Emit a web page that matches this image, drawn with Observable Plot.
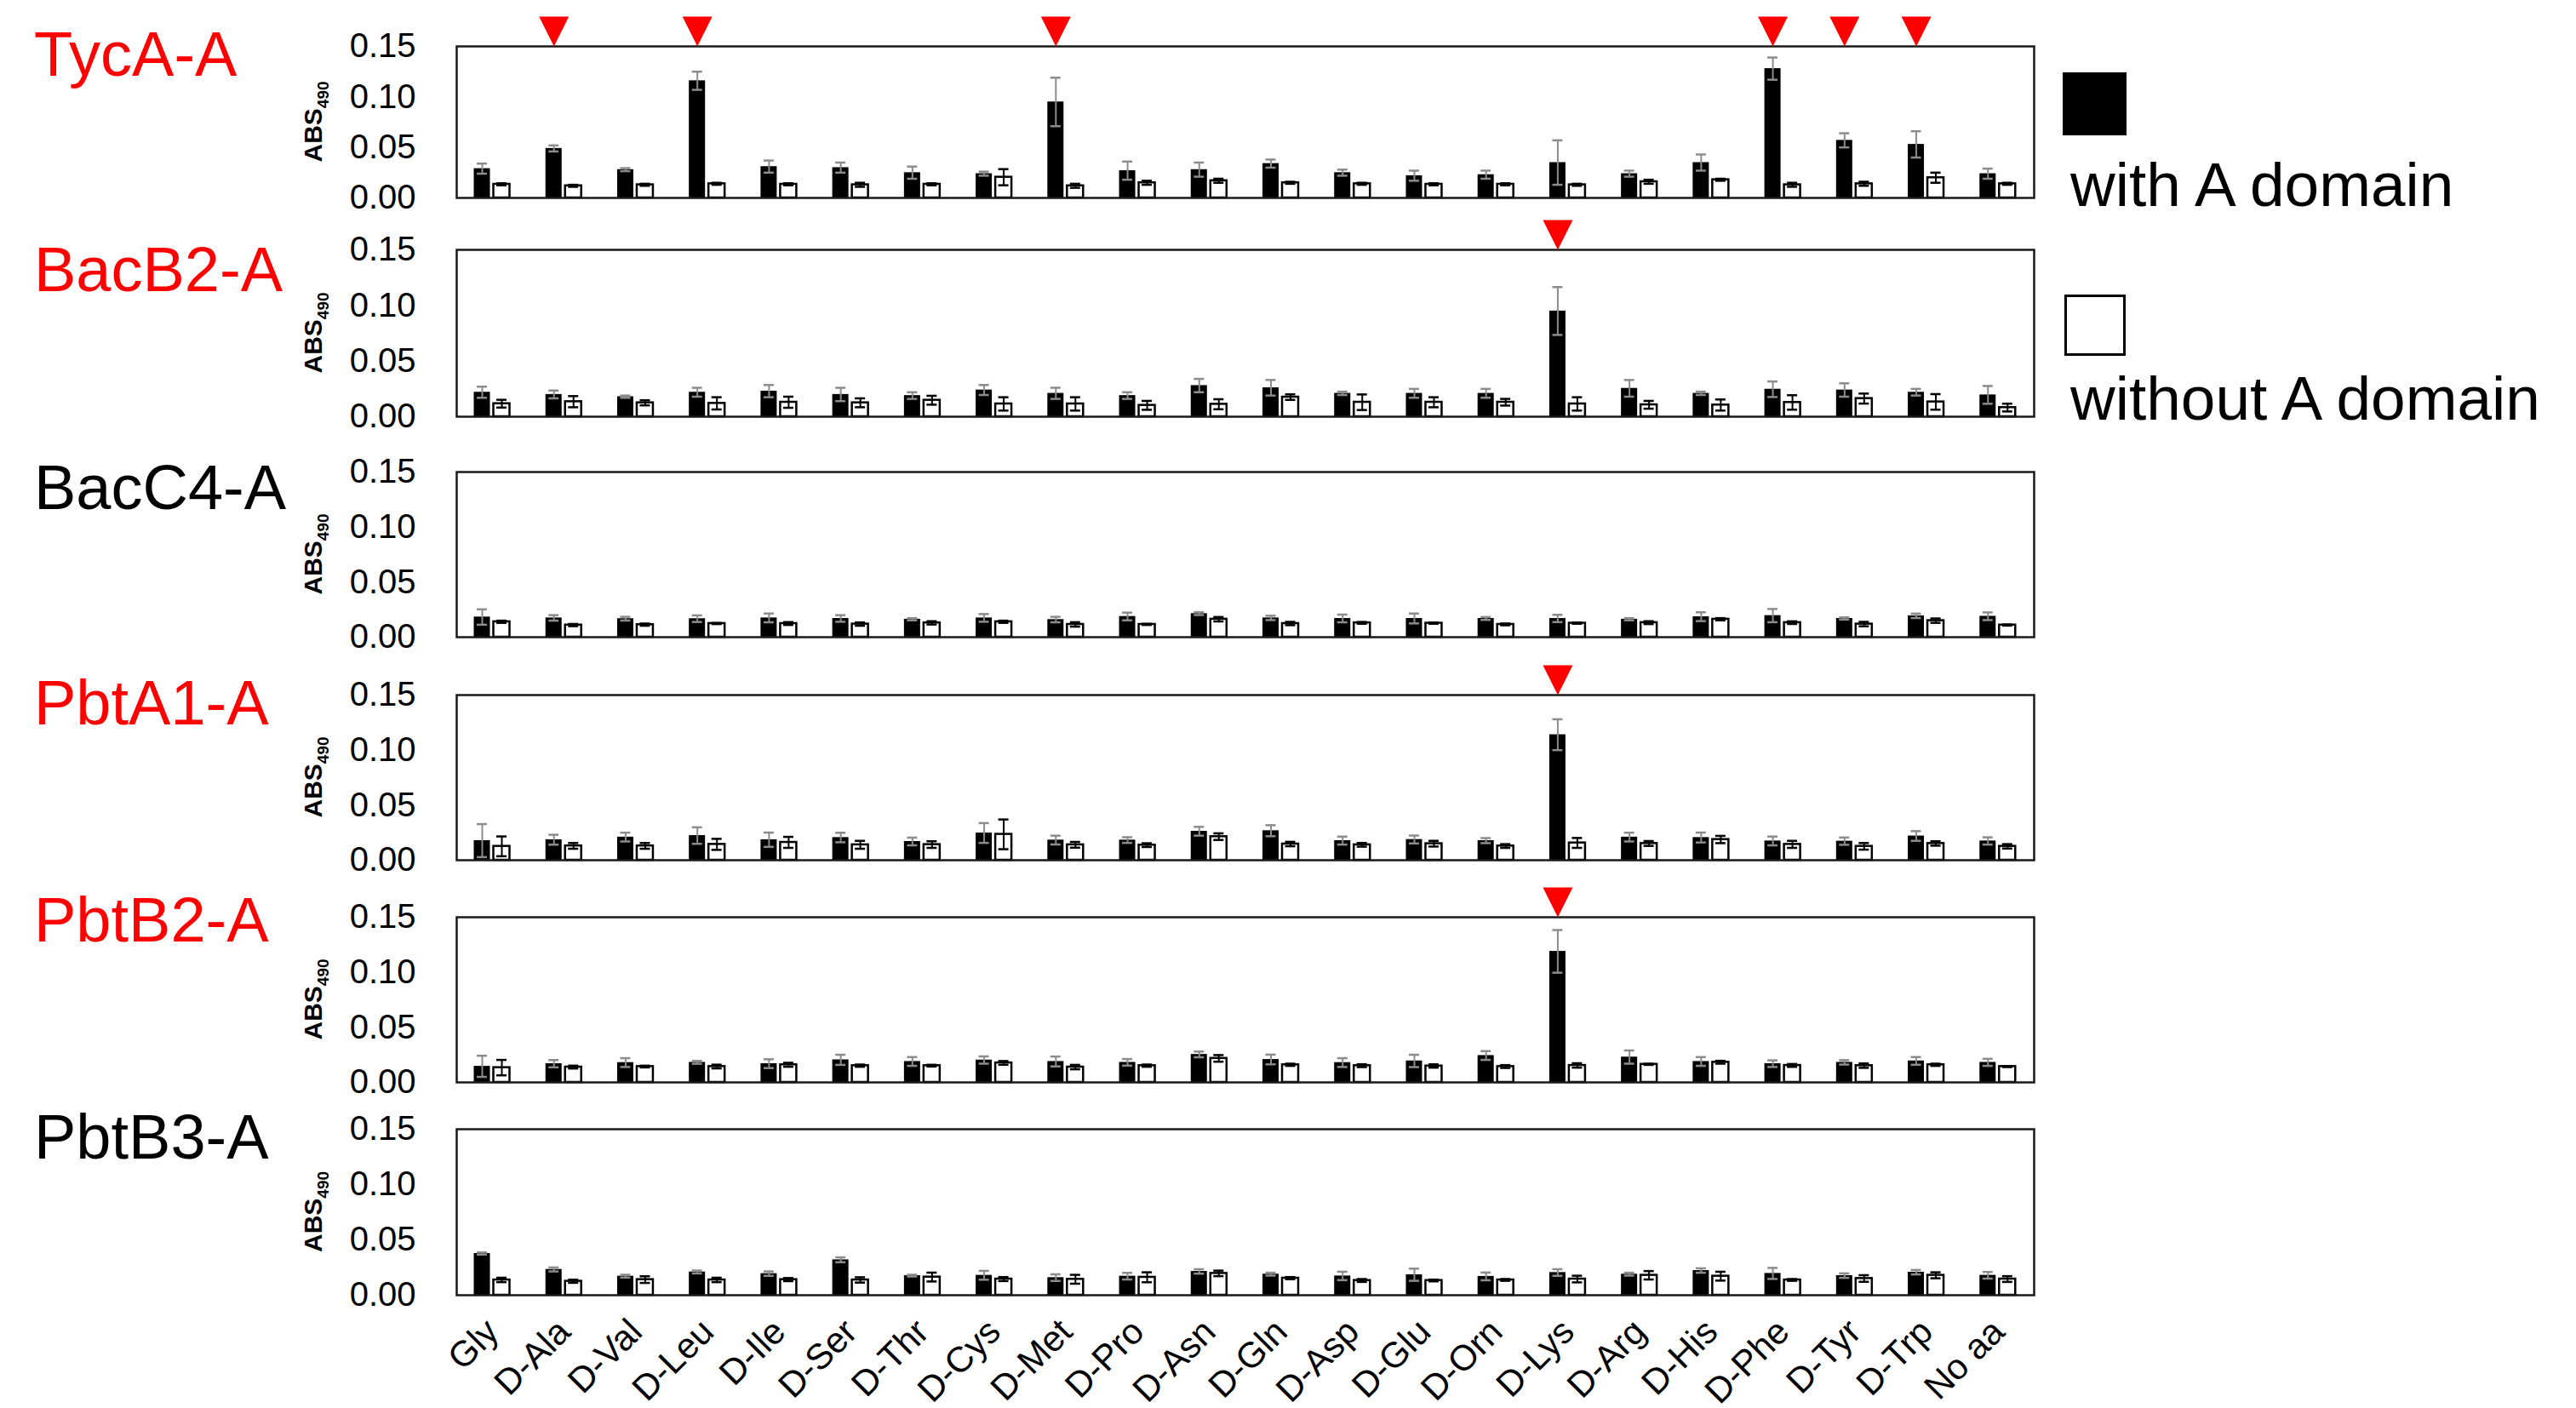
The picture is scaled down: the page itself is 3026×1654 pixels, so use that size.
<!DOCTYPE html>
<html>
<head>
<meta charset="utf-8">
<script src="https://cdn.jsdelivr.net/npm/d3@7"></script>
<script src="https://cdn.jsdelivr.net/npm/@observablehq/plot@0.6"></script>
<style>
  html, body { margin: 0; padding: 0; background: #fff; }
  body { width: 3026px; height: 1654px; position: relative; overflow: hidden;
         font-family: "Liberation Sans", Arial, Helvetica, sans-serif; }
  .panel { position: absolute; left: 0; }
  .title { position: absolute; font-size: 74px; line-height: 74px; white-space: nowrap; }
  .swatch { position: absolute; box-sizing: border-box; }
  .legtext { position: absolute; font-size: 73px; line-height: 73px; white-space: nowrap; color: #000; }
</style>
</head>
<body>
<div id="root"></div>
<script>
// ---------------- DATA ----------------
const categories = ["Gly","D-Ala","D-Val","D-Leu","D-Ile","D-Ser","D-Thr","D-Cys","D-Met","D-Pro","D-Asn",
  "D-Gln","D-Asp","D-Glu","D-Orn","D-Lys","D-Arg","D-His","D-Phe","D-Tyr","D-Trp","No aa"];
const panelNames = ["TycA-A","BacB2-A","BacC4-A","PbtA1-A","PbtB2-A","PbtB3-A"];
const seriesLabels = ["with A domain","without A domain"];
const yTicks = [0, 0.05, 0.10, 0.15];

const tycaWith       = [0.029,0.049,0.028,0.116,0.031,0.030,0.025,0.024,0.095,0.027,0.028,0.034,0.025,0.022,0.023,0.035,0.024,0.035,0.128,0.057,0.053,0.024];
const tycaWithErr    = [0.005,0.003,0.0015,0.009,0.006,0.005,0.006,0.002,0.024,0.009,0.007,0.004,0.003,0.005,0.004,0.022,0.003,0.008,0.011,0.007,0.013,0.005];
const tycaWithout    = [0.0135,0.012,0.013,0.014,0.0135,0.013,0.0135,0.0205,0.012,0.015,0.017,0.015,0.014,0.0135,0.0135,0.013,0.016,0.018,0.013,0.014,0.020,0.014];
const tycaWithoutErr = [0.001,0.001,0.001,0.001,0.001,0.002,0.001,0.008,0.002,0.002,0.002,0.001,0.001,0.001,0.001,0.001,0.002,0.001,0.002,0.002,0.005,0.001];
const tycaMarked     = ["D-Ala","D-Leu","D-Met","D-Phe","D-Tyr","D-Trp"];

const bacb2With       = [0.022,0.020,0.018,0.022,0.023,0.020,0.019,0.024,0.021,0.019,0.028,0.026,0.021,0.021,0.021,0.095,0.0255,0.021,0.0247,0.024,0.022,0.0196];
const bacb2WithErr    = [0.005,0.0035,0.001,0.004,0.0055,0.006,0.003,0.0045,0.005,0.003,0.006,0.007,0.0015,0.004,0.004,0.0215,0.0075,0.0015,0.007,0.006,0.003,0.008];
const bacb2Without    = [0.0117,0.0135,0.0125,0.012,0.013,0.0125,0.0148,0.0115,0.0115,0.0102,0.0112,0.0176,0.013,0.013,0.013,0.0115,0.0107,0.0105,0.0128,0.0163,0.0133,0.0082];
const bacb2WithoutErr = [0.0035,0.005,0.0023,0.0055,0.005,0.004,0.004,0.006,0.006,0.004,0.0045,0.0025,0.007,0.0045,0.003,0.006,0.0035,0.005,0.0065,0.0045,0.007,0.0035];
const bacb2Marked     = ["D-Lys"];

const bacc4With       = [0.0183,0.0175,0.0168,0.0168,0.0175,0.017,0.0163,0.0175,0.016,0.0188,0.0214,0.0175,0.017,0.017,0.017,0.017,0.0163,0.0186,0.0196,0.017,0.0194,0.019];
const bacc4WithErr    = [0.007,0.0025,0.0017,0.003,0.004,0.003,0.001,0.0035,0.0025,0.0035,0.0013,0.002,0.0035,0.0045,0.0013,0.0033,0.001,0.004,0.006,0.001,0.002,0.0035];
const bacc4Without    = [0.014,0.011,0.0114,0.0124,0.0124,0.0119,0.013,0.014,0.0116,0.0116,0.0163,0.0124,0.013,0.0127,0.0116,0.0127,0.0132,0.0163,0.0132,0.0119,0.015,0.011];
const bacc4WithoutErr = [0.001,0.001,0.001,0.0005,0.0013,0.0015,0.0015,0.001,0.002,0.0005,0.002,0.0015,0.0008,0.0005,0.0008,0.0005,0.0013,0.001,0.0012,0.002,0.002,0.0005];
const bacc4Marked     = [];

const pbta1With       = [0.0178,0.0186,0.021,0.0224,0.0186,0.0206,0.017,0.0247,0.0183,0.0183,0.0263,0.0268,0.0178,0.0188,0.0178,0.114,0.021,0.0206,0.0175,0.0173,0.022,0.0175];
const pbta1WithErr    = [0.015,0.0045,0.004,0.0075,0.0065,0.0043,0.0035,0.009,0.004,0.0026,0.004,0.005,0.0036,0.0036,0.0023,0.014,0.004,0.0045,0.004,0.0033,0.0044,0.0033];
const pbta1Without    = [0.0126,0.013,0.013,0.0144,0.0162,0.014,0.0142,0.0235,0.014,0.0137,0.0214,0.0147,0.014,0.015,0.0129,0.0157,0.0152,0.0188,0.0144,0.0126,0.0152,0.0126];
const pbta1WithoutErr = [0.009,0.0026,0.0026,0.005,0.005,0.0036,0.003,0.0135,0.0026,0.0017,0.003,0.002,0.0017,0.0026,0.0017,0.0045,0.0022,0.0033,0.0032,0.003,0.002,0.002];
const pbta1Marked     = ["D-Lys"];

const pbtb2With       = [0.0146,0.017,0.018,0.0182,0.017,0.0205,0.019,0.0203,0.019,0.0182,0.0254,0.0208,0.018,0.0195,0.0244,0.119,0.023,0.019,0.017,0.0182,0.0195,0.0182];
const pbtb2WithErr    = [0.0096,0.0033,0.004,0.0013,0.004,0.0046,0.004,0.0033,0.0045,0.003,0.0026,0.0044,0.004,0.0056,0.004,0.0194,0.006,0.004,0.003,0.002,0.0035,0.0032];
const pbtb2Without    = [0.0134,0.0139,0.0144,0.0144,0.016,0.0152,0.0152,0.0177,0.0139,0.0152,0.0218,0.016,0.0152,0.0149,0.0144,0.0154,0.0164,0.0183,0.0154,0.0152,0.016,0.0144];
const pbtb2WithoutErr = [0.007,0.0013,0.0008,0.0017,0.0018,0.001,0.0008,0.0017,0.002,0.001,0.003,0.001,0.0013,0.0015,0.0013,0.002,0.0005,0.0013,0.0013,0.002,0.001,0.0005];
const pbtb2Marked     = ["D-Lys"];

const pbtb3With       = [0.0377,0.0233,0.0172,0.021,0.0195,0.032,0.0177,0.018,0.0159,0.0172,0.0215,0.019,0.0174,0.0185,0.017,0.0205,0.019,0.0223,0.0197,0.0177,0.0208,0.018];
const pbtb3WithErr    = [0.001,0.0018,0.0013,0.0013,0.002,0.0022,0.0008,0.004,0.003,0.003,0.002,0.0013,0.0038,0.0055,0.0035,0.003,0.0013,0.002,0.005,0.002,0.002,0.003];
const pbtb3Without    = [0.0138,0.0126,0.0141,0.0138,0.0141,0.0138,0.0164,0.0146,0.0144,0.0162,0.0197,0.0154,0.0133,0.0133,0.0138,0.0146,0.018,0.0172,0.0138,0.0151,0.018,0.0146];
const pbtb3WithoutErr = [0.002,0.0014,0.003,0.002,0.0014,0.0024,0.004,0.0018,0.004,0.0045,0.0025,0.001,0.0013,0.0008,0.0008,0.003,0.0038,0.004,0.0008,0.003,0.0027,0.0026];
const pbtb3Marked     = [];

const panels = [
  {name: panelNames[0], withA: tycaWith,  withErr: tycaWithErr,  withoutA: tycaWithout,  withoutErr: tycaWithoutErr,  marked: tycaMarked},
  {name: panelNames[1], withA: bacb2With, withErr: bacb2WithErr, withoutA: bacb2Without, withoutErr: bacb2WithoutErr, marked: bacb2Marked},
  {name: panelNames[2], withA: bacc4With, withErr: bacc4WithErr, withoutA: bacc4Without, withoutErr: bacc4WithoutErr, marked: bacc4Marked},
  {name: panelNames[3], withA: pbta1With, withErr: pbta1WithErr, withoutA: pbta1Without, withoutErr: pbta1WithoutErr, marked: pbta1Marked},
  {name: panelNames[4], withA: pbtb2With, withErr: pbtb2WithErr, withoutA: pbtb2Without, withoutErr: pbtb2WithoutErr, marked: pbtb2Marked},
  {name: panelNames[5], withA: pbtb3With, withErr: pbtb3WithErr, withoutA: pbtb3Without, withoutErr: pbtb3WithoutErr, marked: pbtb3Marked}
];

// ---------------- LAYOUT ----------------
const FONT = "'Liberation Sans', Arial, Helvetica, sans-serif";
const W = 2400, frameLeft = 536, frameRight = 2389;
const frameTops = [54, 293, 554, 816, 1077, 1326];
const frameHeights = [178, 196, 194, 194, 194, 195];
const titleBaselines = [90, 343, 599, 852, 1107, 1362];
const topPad = 50;
const bw = (frameRight - frameLeft) / categories.length;  // band width
// bar geometry inside each band (px)
const blackL = 20.5, blackR = 39.5, whiteL = 43.5, whiteR = 62.5, capW = 12;
const blackC = (blackL + blackR) / 2, whiteC = (whiteL + whiteR) / 2;

const downTriangle = {
  draw(ctx, size) {
    const r = Math.sqrt(size / Math.PI);
    ctx.moveTo(-r, -2 * r);
    ctx.lineTo(r, -2 * r);
    ctx.lineTo(0, 0);
    ctx.closePath();
  }
};

const root = document.getElementById("root");

panels.forEach((p, i) => {
  const rowsW = categories.map((aa, j) => ({aa, v: p.withA[j], e: p.withErr[j]}));
  const rowsO = categories.map((aa, j) => ({aa, v: p.withoutA[j], e: p.withoutErr[j]}));
  const isLast = i === panels.length - 1;
  const fh = frameHeights[i];
  const mb = isLast ? 150 : 4;
  const grey = "#8c8c8c";

  const plot = Plot.plot({
    width: W,
    height: topPad + fh + mb,
    marginLeft: frameLeft,
    marginRight: W - frameRight,
    marginTop: topPad,
    marginBottom: mb,
    style: {fontFamily: FONT, background: "transparent", overflow: "visible", color: "#000"},
    x: {type: "band", domain: categories, padding: 0, round: false, ...(isLast ? {} : {axis: null})},
    y: {domain: [0, 0.15]},
    marks: [
      Plot.barY(rowsW, {x: "aa", y: "v", fill: "#000", insetLeft: blackL, insetRight: bw - blackR}),
      Plot.barY(rowsO, {x: "aa", y: "v", fill: "#fff", stroke: "#000", strokeWidth: 2.5,
                        insetLeft: whiteL, insetRight: bw - whiteR}),
      Plot.ruleX(rowsW, {x: "aa", y1: d => d.v - d.e, y2: d => d.v + d.e, stroke: grey, strokeWidth: 2,
                         dx: blackC - bw / 2}),
      Plot.tickY(rowsW, {x: "aa", y: d => d.v + d.e, stroke: grey, strokeWidth: 2.5,
                         insetLeft: blackC - capW / 2, insetRight: bw - blackC - capW / 2}),
      Plot.tickY(rowsW, {x: "aa", y: d => d.v - d.e, stroke: grey, strokeWidth: 2.5,
                         insetLeft: blackC - capW / 2, insetRight: bw - blackC - capW / 2}),
      Plot.ruleX(rowsO, {x: "aa", y1: d => d.v - d.e, y2: d => d.v + d.e, stroke: "#000", strokeWidth: 2,
                         dx: whiteC - bw / 2}),
      Plot.tickY(rowsO, {x: "aa", y: d => d.v + d.e, stroke: "#000", strokeWidth: 2.5,
                         insetLeft: whiteC - capW / 2, insetRight: bw - whiteC - capW / 2}),
      Plot.tickY(rowsO, {x: "aa", y: d => d.v - d.e, stroke: "#000", strokeWidth: 2.5,
                         insetLeft: whiteC - capW / 2, insetRight: bw - whiteC - capW / 2}),
      Plot.frame({stroke: "#1a1a1a", strokeWidth: 2.5}),
      Plot.dot(p.marked, {x: d => d, frameAnchor: "top", symbol: downTriangle, r: 17.5,
                          fill: "#ff0000", stroke: "none", dx: blackC - bw / 2}),
      Plot.axisY({ticks: yTicks, tickFormat: d3.format(".2f"), tickSize: 0, tickPadding: 48,
                  fontSize: 40, label: null}),
      isLast ? Plot.axisX({tickSize: 0, tickRotate: -45, fontSize: 42, tickPadding: 36, dx: 0, label: null}) : null
    ]
  });

  // y-axis title with subscript
  const svg = d3.select(plot);
  const t = svg.append("text")
    .attr("transform", `translate(378,${topPad + fh / 2}) rotate(-90)`)
    .attr("text-anchor", "middle")
    .attr("font-family", FONT)
    .attr("font-weight", "bold")
    .attr("font-size", 30)
    .attr("fill", "#000");
  t.append("tspan").text("ABS");
  t.append("tspan").attr("font-size", 19).attr("dy", 8).text("490");

  const holder = document.createElement("div");
  holder.className = "panel";
  holder.style.top = (frameTops[i] - topPad) + "px";
  holder.appendChild(plot);
  root.appendChild(holder);

  // panel title (red when the panel has marked substrates)
  const title = document.createElement("div");
  title.className = "title";
  title.textContent = p.name;
  title.style.left = "40px";
  title.style.top = (titleBaselines[i] - 63) + "px";
  title.style.color = p.marked.length ? "#ff0000" : "#000";
  root.appendChild(title);
});

// ---------------- LEGEND ----------------
const legendItems = [
  {label: seriesLabels[0], fill: "#000", border: "none", box: [2423, 85, 75, 74], base: 242},
  {label: seriesLabels[1], fill: "#fff", border: "3px solid #000", box: [2425, 346, 72, 72], base: 493}
];
legendItems.forEach(it => {
  const sw = document.createElement("div");
  sw.className = "swatch";
  sw.style.left = it.box[0] + "px"; sw.style.top = it.box[1] + "px";
  sw.style.width = it.box[2] + "px"; sw.style.height = it.box[3] + "px";
  sw.style.background = it.fill; sw.style.border = it.border;
  root.appendChild(sw);
  const tx = document.createElement("div");
  tx.className = "legtext";
  tx.textContent = it.label;
  tx.style.left = "2432px";
  tx.style.top = (it.base - 62) + "px";
  root.appendChild(tx);
});
</script>
</body>
</html>
